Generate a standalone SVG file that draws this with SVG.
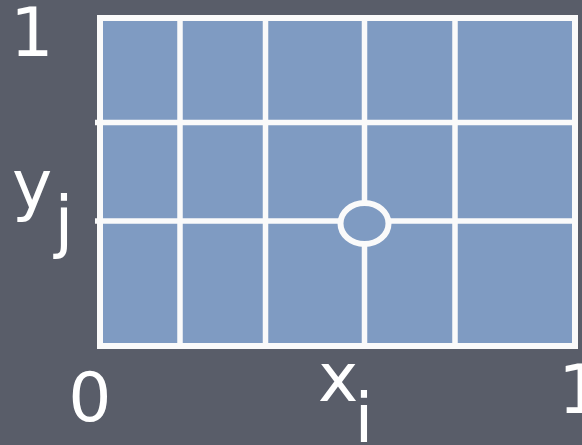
<svg xmlns="http://www.w3.org/2000/svg" width="582" height="445" viewBox="0 0 582 445">
<style>
.lbl{font-family:"DejaVu Sans",sans-serif;font-size:68px;fill:#ffffff;text-anchor:middle}
.ln{stroke:#fafafa;stroke-width:5.5;fill:none}
</style>
<rect width="582" height="445" fill="#595d69"/>
<g id="grid">
<rect x="100" y="18" width="475" height="328" fill="#7f9bc2" stroke="#fafafa" stroke-width="6"/>
</g>
<g id="connectors">
<line class="ln" x1="180" y1="18" x2="180" y2="346"/>
<line class="ln" x1="265.5" y1="18" x2="265.5" y2="346"/>
<line class="ln" x1="364.5" y1="18" x2="364.5" y2="346"/>
<line class="ln" x1="455" y1="18" x2="455" y2="346"/>
<line class="ln" x1="95" y1="122.5" x2="575" y2="122.5"/>
<line class="ln" x1="95" y1="221" x2="575" y2="221"/>
</g>
<g id="point">
<ellipse cx="364.5" cy="223.5" rx="24" ry="20.5" fill="#7f9bc2" stroke="#fafafa" stroke-width="6"/>
</g>
<g id="labels">
<text class="lbl" x="32" y="56">1</text>
<text class="lbl" x="90" y="421">0</text>
<text class="lbl" x="580" y="413">1</text>
<text class="lbl" x="32" y="208">y</text>
<text class="lbl" x="64" y="245">j</text>
<text class="lbl" x="338" y="401">x</text>
<text class="lbl" x="364" y="442">i</text>
</g>
</svg>
